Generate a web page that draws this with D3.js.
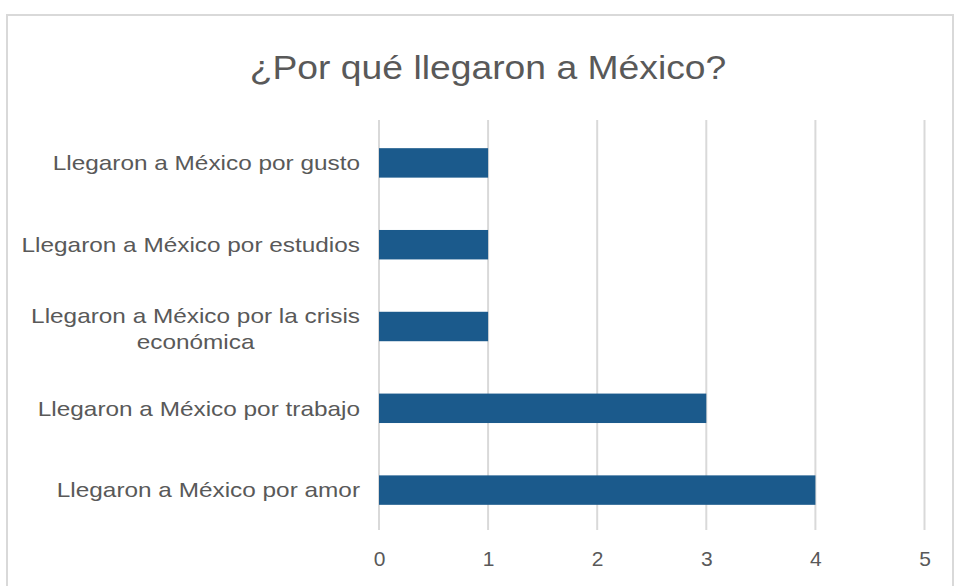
<!DOCTYPE html>
<html><head><meta charset="utf-8">
<script src="https://cdn.jsdelivr.net/npm/d3@7"></script>
<style>body{margin:0;background:#fff;} svg{display:block;font-family:"Liberation Sans",Arial,sans-serif;}</style>
</head><body>
<svg id="chart" width="954" height="586"></svg>
<script>
const title = "¿Por qué llegaron a México?";
const categories = [
  ["Llegaron a México por gusto"],
  ["Llegaron a México por estudios"],
  ["Llegaron a México por la crisis", "económica"],
  ["Llegaron a México por trabajo"],
  ["Llegaron a México por amor"]
];
const values = [1, 1, 1, 3, 4];
const xTicks = [0, 1, 2, 3, 4, 5];

const svg = d3.select("#chart");
const W = 954, H = 586;
const m = {left: 379, right: 29, top: 122, bottom: 55};
const SX = 1.13, SXL = 1.16;

svg.append("rect").attr("x", 7).attr("y", 15).attr("width", 946).attr("height", 600)
  .attr("fill", "#fff").attr("stroke", "#d9d9d9").attr("stroke-width", 2);

svg.append("g").attr("transform", `translate(488,79) scale(${SX},1)`)
  .append("text").attr("x", 0).attr("y", 0).attr("text-anchor", "middle")
  .attr("font-size", 33).attr("fill", "#595959").text(title);

const x = d3.scaleLinear().domain([0, 5]).range([m.left, W - m.right - 0.5]);
const y = d3.scaleBand().domain(d3.range(categories.length)).range([m.top, H - m.bottom]).paddingInner(0.64).paddingOuter(0.32);

const grid = svg.append("g");
grid.selectAll("line").data(xTicks).join("line")
  .attr("x1", d => x(d)).attr("x2", d => x(d))
  .attr("y1", 120).attr("y2", 530)
  .attr("stroke", "#d9d9d9").attr("stroke-width", 2);

svg.append("g").selectAll("rect").data(values).join("rect")
  .attr("x", x(0)).attr("y", (d, i) => y(i))
  .attr("width", d => x(d) - x(0)).attr("height", y.bandwidth())
  .attr("fill", "#1b5a8c");

const axis = d3.axisBottom(x).tickValues(xTicks).tickFormat(d3.format("d")).tickSize(0).tickPadding(0);
const ax = svg.append("g").attr("transform", "translate(0,551)").call(axis);
ax.select(".domain").remove();
ax.selectAll("text").attr("font-size", 21).attr("fill", "#595959").attr("font-family", "Liberation Sans, Arial, sans-serif").attr("dy", "0.71em");

categories.forEach((lines, i) => {
  const cy = y(i) + y.bandwidth() / 2;
  const lh = 26;
  const g = svg.append("g").attr("transform", `translate(360,${cy}) scale(${SXL},1)`);
  const t = g.append("text").attr("font-size", 21).attr("fill", "#595959");
  if (lines.length === 1) {
    t.attr("x", 0).attr("y", 0).attr("dy", "0.35em").attr("text-anchor", "end").text(lines[0]);
  } else {
    const spans = lines.map((l, k) => t.append("tspan").attr("x", 0).attr("y", 2 + (k - (lines.length - 1) / 2) * lh).attr("dy", "0.35em").text(l));
    const w = d3.max(spans, s => s.node().getComputedTextLength());
    t.attr("text-anchor", "middle");
    spans.forEach(s => s.attr("x", -w / 2));
  }
});
</script>
</body></html>
